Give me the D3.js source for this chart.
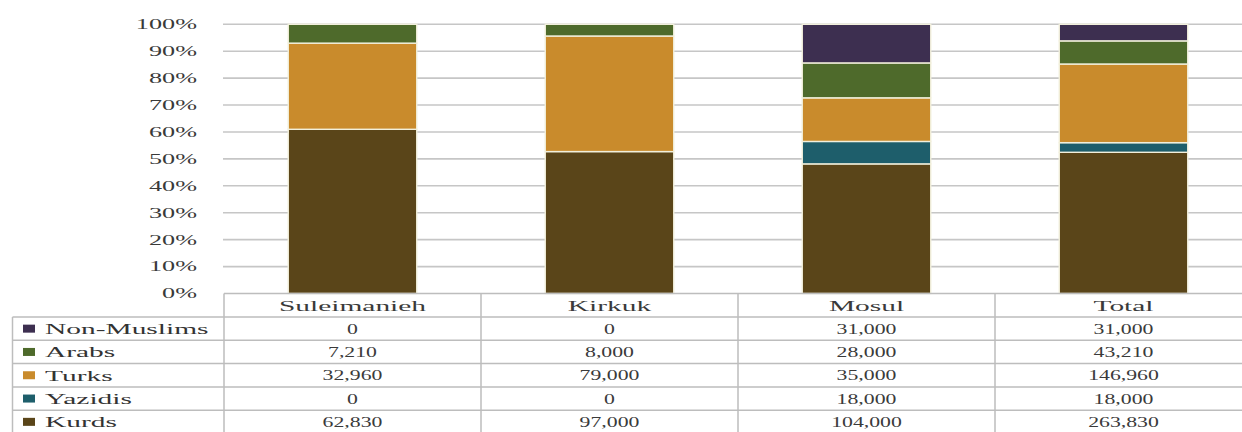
<!DOCTYPE html>
<html><head><meta charset="utf-8">
<script src="https://cdn.jsdelivr.net/npm/d3@7"></script>
<style>html,body{margin:0;padding:0;background:#fff;overflow:hidden}</style>
</head><body><svg id="c" width="1242" height="432"></svg>
<script>
const categories = ["Suleimanieh", "Kirkuk", "Mosul", "Total"];
const seriesNames = ["Kurds", "Yazidis", "Turks", "Arabs", "Non-Muslims"]; // bottom to top
const kurds = [62830, 97000, 104000, 263830];
const yazidis = [0, 0, 18000, 18000];
const turks = [32960, 79000, 35000, 146960];
const arabs = [7210, 8000, 28000, 43210];
const nonMuslims = [0, 0, 31000, 31000];
const yTicks = [0, 0.1, 0.2, 0.3, 0.4, 0.5, 0.6, 0.7, 0.8, 0.9, 1.0];
const tableOrder = ["Non-Muslims", "Arabs", "Turks", "Yazidis", "Kurds"];
const colors = {"Kurds":"#5a4519","Yazidis":"#1e5e6b","Turks":"#c98b2c","Arabs":"#4e6a2b","Non-Muslims":"#3d2f50"};

const valuesBySeries = {"Kurds":kurds,"Yazidis":yazidis,"Turks":turks,"Arabs":arabs,"Non-Muslims":nonMuslims};
const rows = categories.map((c,i)=>{const o={cat:c}; seriesNames.forEach(s=>o[s]=valuesBySeries[s][i]); return o;});

const svg = d3.select("#c");
const FONT = "'Liberation Serif', serif";
const SX_TXT = 1.9, SX_NUM = 1.45, SX_AX = 1.75;

const x = d3.scaleBand().domain(categories).range([224, 1252]).paddingInner(0.5).paddingOuter(0.25);
const y = d3.scaleLinear().domain([0,1]).range([293.5, 24.3]);

function txt(g, tx, ty, s, sx, anchor, size, fill, weight){
  g.append("text").attr("transform",`translate(${tx},${ty}) scale(${sx},1)`)
    .attr("text-anchor",anchor).attr("dominant-baseline","central")
    .attr("font-family",FONT).attr("font-size",size).attr("fill",fill)
    .attr("font-weight",weight||"normal").text(s);
}

// gridlines
svg.append("g").selectAll("line").data(yTicks.filter(t=>t>0)).join("line")
  .attr("x1",223).attr("x2",1242).attr("y1",d=>y(d)).attr("y2",d=>y(d))
  .attr("stroke","#c6c6c6").attr("stroke-width",1.6);

// y labels
const yl = svg.append("g");
yTicks.forEach(t=> txt(yl, 197, y(t), d3.format(".0%")(t), SX_AX, "end", 15, "#3a3a3a"));

// stacked bars
const stack = d3.stack().keys(seriesNames).offset(d3.stackOffsetExpand);
const layers = stack(rows);
svg.append("g").selectAll("g").data(layers).join("g").attr("fill",d=>colors[d.key])
  .selectAll("rect").data(d=>d).join("rect")
  .attr("x",d=>x(d.data.cat)).attr("width",x.bandwidth())
  .attr("y",d=>y(d[1])).attr("height",d=>Math.max(0,y(d[0])-y(d[1])))
  .attr("stroke","#f2f0dc").attr("stroke-width",d=>(d[1]-d[0])>0?1.4:0);

// data table
const tbl = svg.append("g");
const headTop = 293.5, headH = 23.5, rowH = 23.3;
const step = x.step();
const left0 = x.range()[0];
const colEdges = d3.range(categories.length+1).map(i=>left0 + i*step);
const lineCol = "#bdbdbd";
tbl.append("line").attr("x1",left0).attr("x2",1260).attr("y1",headTop).attr("y2",headTop).attr("stroke",lineCol).attr("stroke-width",1.5);
d3.range(tableOrder.length+1).forEach(i=>{
  const yy = headTop + headH + i*rowH;
  tbl.append("line").attr("x1",12.5).attr("x2",1260).attr("y1",yy).attr("y2",yy).attr("stroke",lineCol).attr("stroke-width",1.5);
});
tbl.append("line").attr("x1",12.5).attr("x2",12.5).attr("y1",headTop+headH).attr("y2",440).attr("stroke",lineCol).attr("stroke-width",1.5);
colEdges.forEach(cx=>tbl.append("line").attr("x1",cx).attr("x2",cx).attr("y1",headTop).attr("y2",440).attr("stroke",lineCol).attr("stroke-width",1.5));
categories.forEach(c=> txt(tbl, x(c)+x.bandwidth()/2, headTop+headH/2, c, SX_TXT, "middle", 15.5, "#3a3a3a"));
const fmt = d3.format(",");
tableOrder.forEach((s,ri)=>{
  const cy = headTop + headH + ri*rowH + rowH/2;
  tbl.append("rect").attr("x",23).attr("y",cy-4).attr("width",12).attr("height",8).attr("fill",colors[s]);
  txt(tbl, 45, cy, s, SX_TXT, "start", 15.5, "#333333", "normal");
  categories.forEach((c,ci)=> txt(tbl, x(c)+x.bandwidth()/2, cy, fmt(valuesBySeries[s][ci]), SX_NUM, "middle", 15, "#3a3a3a"));
});
</script></body></html>
